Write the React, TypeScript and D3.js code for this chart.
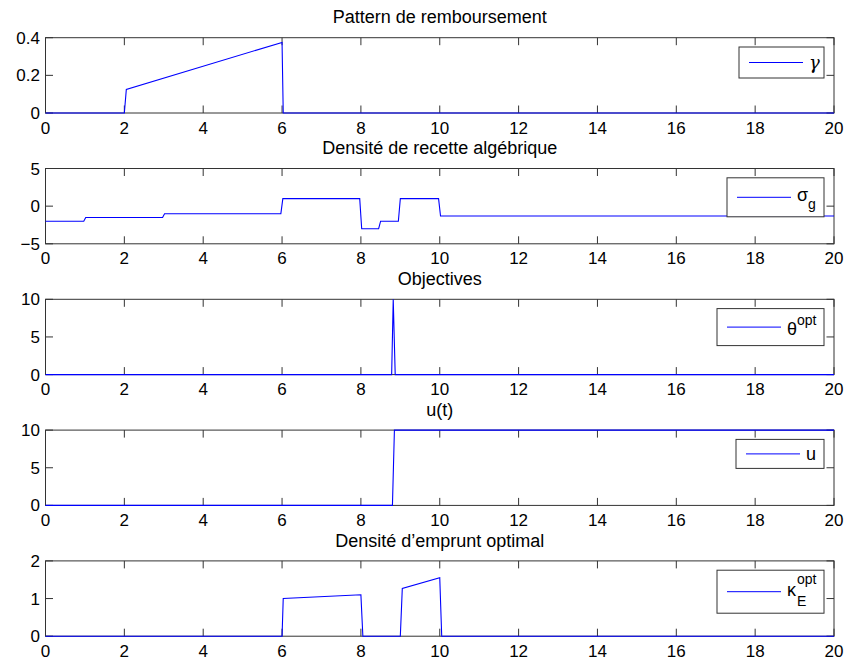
import React from "react";
import * as d3 from "d3";

// ---------- data ----------
const xTicks = [0, 2, 4, 6, 8, 10, 12, 14, 16, 18, 20];

const titles = [
  "Pattern de remboursement",
  "Densité de recette algébrique",
  "Objectives",
  "u(t)",
  "Densité d\u2019emprunt optimal",
];

const yDomains: [number, number][] = [
  [0, 0.4],
  [-5, 5],
  [0, 10],
  [0, 10],
  [0, 2],
];

const yTicks = [
  [0, 0.2, 0.4],
  [-5, 0, 5],
  [0, 5, 10],
  [0, 5, 10],
  [0, 1, 2],
];

const yTickLabels = [
  ["0", "0.2", "0.4"],
  ["\u22125", "0", "5"],
  ["0", "5", "10"],
  ["0", "5", "10"],
  ["0", "1", "2"],
];

// γ : remboursement
const gammaT = [0, 2, 2.05, 6, 6.03, 20];
const gammaV = [0, 0, 0.125, 0.375, 0, 0];

// σ_g : recette algébrique
const sigmaT = [0, 0.97, 1.02, 2.97, 3.02, 5.97, 6.02, 7.97, 8.02, 8.45, 8.5, 8.95, 9.0, 9.97, 10.02, 20];
const sigmaV = [-2, -2, -1.5, -1.5, -1, -1, 1, 1, -3, -3, -2, -2, 1, 1, -1.3, -1.3];

// θ^opt
const thetaT = [0, 8.78, 8.82, 8.87, 20];
const thetaV = [0, 0, 10, 0, 0];

// u
const uT = [0, 8.8, 8.85, 20];
const uV = [0, 0, 10, 10];

// κ_E^opt
const kappaT = [0, 6, 6.03, 8, 8.05, 9, 9.05, 10, 10.05, 20];
const kappaV = [0, 0, 1.0, 1.1, 0, 0, 1.27, 1.55, 0, 0];

const seriesT = [gammaT, sigmaT, thetaT, uT, kappaT];
const seriesV = [gammaV, sigmaV, thetaV, uV, kappaV];

// ---------- layout ----------
const W = 855;
const H = 663;
const left = 45.5;
const right = 834;
const panelTop0 = 37.7;
const panelStep = 130.8;
const panelH = 75.3;
const tickLen = 7.5;
const font = "'Liberation Sans', Arial, Helvetica, sans-serif";

// legend box geometry: [left, width, height]
const legendBoxes: [number, number, number][] = [
  [739, 85, 31],
  [727, 97, 39],
  [717, 107, 37],
  [736, 88, 29],
  [717, 107, 43],
];

function LegendLabel({ i, x, y }: { i: number; x: number; y: number }) {
  const fs = 18;
  if (i === 0)
    return (
      <text x={x} y={y + 6} fontSize={fs} fontStyle="italic" fontFamily="'DejaVu Serif', serif">
        γ
      </text>
    );
  if (i === 1)
    return (
      <text x={x} y={y + 4} fontSize={fs} fontFamily={font}>
        σ
        <tspan fontSize={14} dy={8}>g</tspan>
      </text>
    );
  if (i === 2)
    return (
      <text x={x} y={y + 8} fontSize={fs} fontFamily={font}>
        θ
        <tspan fontSize={14} dy={-10}>opt</tspan>
      </text>
    );
  if (i === 3)
    return (
      <text x={x} y={y + 6} fontSize={fs} fontFamily={font}>
        u
      </text>
    );
  return (
    <g>
      <text x={x} y={y + 4} fontSize={fs} fontFamily={font}>
        κ
      </text>
      <text x={x + 10} y={y - 8} fontSize={14} fontFamily={font}>
        opt
      </text>
      <text x={x + 10} y={y + 14} fontSize={14} fontFamily={font}>
        E
      </text>
    </g>
  );
}

function Panel({ i }: { i: number }) {
  const top = panelTop0 + i * panelStep;
  const bottom = top + panelH;
  const x = d3.scaleLinear().domain([0, 20]).range([left, right]);
  const y = d3.scaleLinear().domain(yDomains[i]).range([bottom, top]);
  const pts: [number, number][] = seriesT[i].map((t, k) => [t, seriesV[i][k]]);
  const line = d3
    .line<[number, number]>()
    .x((d) => x(d[0]))
    .y((d) => y(d[1]));
  const [lbx, lbw, lbh] = legendBoxes[i];
  const lby = top + 9.3;
  const lcy = lby + lbh / 2;
  const axisColor = "#333";
  return (
    <g>
      <text
        x={(left + right) / 2}
        y={top - 14.4}
        textAnchor="middle"
        fontSize={18}
        fontFamily={font}
        fill="#000"
      >
        {titles[i]}
      </text>
      <rect x={left} y={top} width={right - left} height={panelH} fill="#fff" />
      {xTicks.map((t) => (
        <g key={"x" + t}>
          <line x1={x(t)} x2={x(t)} y1={bottom} y2={bottom - tickLen} stroke={axisColor} strokeWidth={1} />
          <line x1={x(t)} x2={x(t)} y1={top} y2={top + tickLen} stroke={axisColor} strokeWidth={1} />
          <text x={x(t)} y={bottom + 20.6} textAnchor="middle" fontSize={17} fontFamily={font} fill="#000">
            {t}
          </text>
        </g>
      ))}
      {yTicks[i].map((v, k) => (
        <g key={"y" + v}>
          <line x1={left} x2={left + tickLen} y1={y(v)} y2={y(v)} stroke={axisColor} strokeWidth={1} />
          <line x1={right} x2={right - tickLen} y1={y(v)} y2={y(v)} stroke={axisColor} strokeWidth={1} />
          <text x={left - 5.5} y={y(v) + 6} textAnchor="end" fontSize={17} fontFamily={font} fill="#000">
            {yTickLabels[i][k]}
          </text>
        </g>
      ))}
      <rect x={left} y={top} width={right - left} height={panelH} fill="none" stroke={axisColor} strokeWidth={1} />
      <path d={line(pts) || ""} fill="none" stroke="#0000ff" strokeWidth={1.1} />
      <rect x={lbx} y={lby} width={lbw} height={lbh} fill="#fff" stroke={axisColor} strokeWidth={1} />
      <line x1={lbx + 10} x2={lbx + 64} y1={lcy} y2={lcy} stroke="#0000ff" strokeWidth={1} />
      <LegendLabel i={i} x={lbx + 70} y={lcy} />
    </g>
  );
}

export default function App() {
  return (
    <svg
      width={W}
      height={H}
      viewBox={`0 0 ${W} ${H}`}
      style={{ position: "absolute", left: 0, top: 0, display: "block", background: "#fff" }}
    >
      <rect x={0} y={0} width={W} height={H} fill="#fff" />
      {titles.map((_, i) => (
        <Panel key={i} i={i} />
      ))}
    </svg>
  );
}
